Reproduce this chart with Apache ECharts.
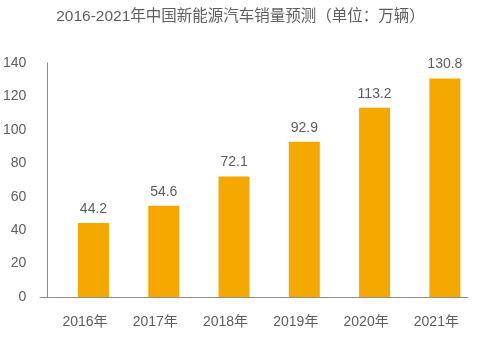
<!DOCTYPE html>
<html>
<head>
<meta charset="utf-8">
<script src="https://cdn.jsdelivr.net/npm/echarts@6/dist/echarts.min.js"></script>
<style>
  html, body { margin: 0; padding: 0; background: #fff; }
  #chart { width: 481px; height: 343px; }
</style>
</head>
<body>
<div id="chart"></div>
<script>
// Forecast of NEV sales in China, 2016–2021 (10k units)
const titleText = '2016-2021年中国新能源汽车销量预测（单位：万辆）';
const years = ['2016年', '2017年', '2018年', '2019年', '2020年', '2021年'];
const sales = [44.2, 54.6, 72.1, 92.9, 113.2, 130.8];
const yTicks = { min: 0, max: 140, step: 20 };

const textColor = '#5e5e5e';
const axisColor = '#8c8c8c';
const barColor = '#F4A800';
const fontFamily = '"Liberation Sans", Arial, "Noto Sans CJK SC", sans-serif';

const chart = echarts.init(document.getElementById('chart'));
chart.setOption({
  backgroundColor: '#ffffff',
  animation: false,
  title: {
    text: titleText,
    left: 'center',
    top: 4,
    textStyle: { color: textColor, fontSize: 15.5, fontWeight: 'normal', fontFamily: fontFamily }
  },
  grid: [
    { left: 55, right: 1, top: 63, bottom: 46 },
    // baseline grid: carries only the horizontal axis line
    { left: 40, right: 13, top: 63, bottom: 46 }
  ],
  xAxis: [
    {
      type: 'category',
      gridIndex: 0,
      data: years,
      axisLine: { show: false },
      axisTick: { show: false },
      axisLabel: {
        color: textColor, fontSize: 14, margin: 18, fontFamily: fontFamily,
        padding: [0, 17, 0, 0]
      }
    },
    {
      type: 'value',
      gridIndex: 1,
      min: 0, max: 1,
      axisLine: { show: true, lineStyle: { color: axisColor, width: 1 } },
      axisTick: { show: false },
      axisLabel: { show: false },
      splitLine: { show: false }
    }
  ],
  yAxis: [
    {
      type: 'value',
      gridIndex: 0,
      min: yTicks.min,
      max: yTicks.max,
      interval: yTicks.step,
      offset: 11,
      axisLine: { show: true, lineStyle: { color: axisColor, width: 1 } },
      axisTick: { show: false },
      splitLine: { show: false },
      axisLabel: { color: textColor, fontSize: 14, margin: 21, fontFamily: fontFamily }
    },
    {
      type: 'value',
      gridIndex: 1,
      show: false,
      min: 0, max: 1
    }
  ],
  series: [
    {
      type: 'bar',
      xAxisIndex: 0,
      yAxisIndex: 0,
      data: sales,
      barWidth: 31,
      itemStyle: { color: barColor },
      label: {
        show: true,
        position: 'top',
        distance: 7,
        color: textColor,
        fontSize: 14,
        fontFamily: fontFamily
      }
    }
  ]
});
</script>
</body>
</html>
